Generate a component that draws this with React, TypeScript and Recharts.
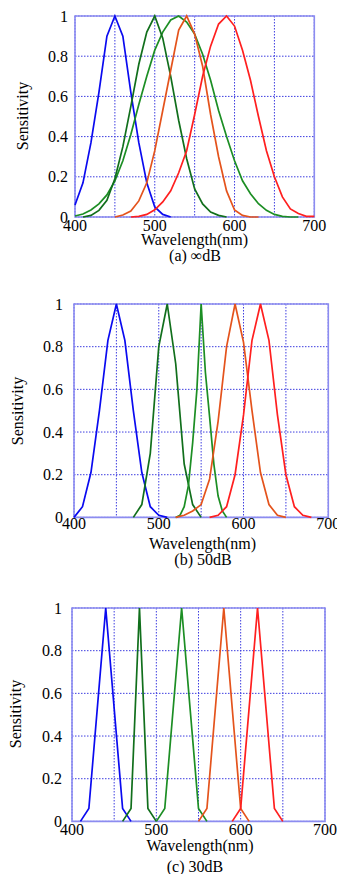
import { CartesianGrid, Line, LineChart, ReferenceArea, XAxis, YAxis } from "recharts";

const FONT = '"Liberation Serif", "Times New Roman", serif';
const BORDER = "#8c8cf0";
const GRID = "#3c3ce0";

const BLUE = "#0a0af0";
const DARK_GREEN = "#116f1c";
const LIGHT_GREEN = "#1c8e24";
const ORANGE = "#e4531c";
const RED = "#ff1f1f";

const X_TICKS = [400, 450, 500, 550, 600, 650, 700];
const X_LABELS = [400, 500, 600, 700];
const Y_TICKS = [0, 0.2, 0.4, 0.6, 0.8, 1];

// (a) ∞dB
const A_BLUE_NM = [400, 410, 420, 430, 440, 450, 460, 470, 480, 490, 500, 510, 520];
const A_BLUE = [0.06, 0.17, 0.37, 0.62, 0.9, 1.0, 0.9, 0.62, 0.37, 0.17, 0.05, 0.013, 0];
const A_DGREEN_NM = [410, 420, 430, 440, 450, 460, 470, 480, 490, 500, 510, 520, 530, 540, 550, 560, 570, 580, 590];
const A_DGREEN = [0, 0.008, 0.033, 0.083, 0.19, 0.35, 0.55, 0.76, 0.92, 1.0, 0.89, 0.7, 0.48, 0.29, 0.14, 0.065, 0.025, 0.008, 0];
const A_LGREEN_NM = [400, 410, 420, 430, 440, 450, 460, 470, 480, 490, 500, 510, 520, 530, 540, 550, 560, 570, 580, 590, 600, 610, 620, 630, 640, 650, 660, 670, 680];
const A_LGREEN = [0.005, 0.015, 0.035, 0.065, 0.11, 0.18, 0.28, 0.41, 0.56, 0.7, 0.83, 0.92, 0.98, 1.0, 0.97, 0.91, 0.81, 0.68, 0.53, 0.4, 0.28, 0.18, 0.116, 0.066, 0.033, 0.013, 0.003, 0, 0];
const A_ORANGE_NM = [450, 460, 470, 480, 490, 500, 510, 520, 530, 540, 550, 560, 570, 580, 590, 600, 610, 620, 630];
const A_ORANGE = [0, 0.01, 0.03, 0.08, 0.17, 0.33, 0.53, 0.73, 0.93, 1.0, 0.91, 0.75, 0.51, 0.3, 0.13, 0.035, 0.008, 0, 0];
const A_RED_NM = [470, 480, 490, 500, 510, 520, 530, 540, 550, 560, 570, 580, 590, 600, 610, 620, 630, 640, 650, 660, 670, 680, 690, 700];
const A_RED = [0, 0.003, 0.013, 0.036, 0.075, 0.13, 0.22, 0.33, 0.51, 0.7, 0.85, 0.96, 1.0, 0.95, 0.83, 0.68, 0.5, 0.33, 0.2, 0.1, 0.04, 0.017, 0.003, 0.003];

// (b) 50dB
const B_BLUE_NM = [400, 410, 420, 430, 440, 450, 460, 470, 480, 490, 500, 510];
const B_BLUE = [0, 0.05, 0.21, 0.5, 0.83, 1.0, 0.83, 0.5, 0.21, 0.05, 0.01, 0];
const B_DGREEN_NM = [470, 480, 490, 500, 510, 520, 530, 540, 550];
const B_DGREEN = [0, 0.06, 0.3, 0.8, 1.0, 0.72, 0.25, 0.06, 0];
const B_LGREEN_NM = [520, 525, 530, 535, 540, 545, 550, 555, 560, 565, 570, 575, 580];
const B_LGREEN = [0, 0.01, 0.05, 0.15, 0.35, 0.6, 1.0, 0.68, 0.47, 0.25, 0.1, 0.03, 0];
const B_ORANGE_NM = [520, 530, 540, 550, 560, 570, 580, 590, 600, 610, 620, 630, 640, 650];
const B_ORANGE = [0, 0.01, 0.03, 0.06, 0.18, 0.45, 0.8, 1.0, 0.82, 0.5, 0.21, 0.06, 0.01, 0];
const B_RED_NM = [560, 570, 580, 590, 600, 610, 620, 630, 640, 650, 660, 670, 680];
const B_RED = [0, 0.01, 0.05, 0.2, 0.48, 0.83, 1.0, 0.83, 0.48, 0.2, 0.05, 0.01, 0];

// (c) 30dB
const C_BLUE_NM = [410, 420, 440, 460, 470];
const C_BLUE = [0, 0.06, 1.0, 0.06, 0];
const C_DGREEN_NM = [460, 470, 480, 490, 500];
const C_DGREEN = [0, 0.06, 1.0, 0.06, 0];
const C_LGREEN_NM = [500, 510, 530, 550, 560];
const C_LGREEN = [0, 0.06, 1.0, 0.06, 0];
const C_ORANGE_NM = [550, 560, 580, 600, 610];
const C_ORANGE = [0, 0.06, 1.0, 0.06, 0];
const C_RED_NM = [590, 600, 620, 640, 650];
const C_RED = [0, 0.06, 1.0, 0.06, 0];

type Series = { key: string; color: string; nm: number[]; values: number[] };

type Layout = {
  plotLeft: number;
  plotRight: number;
  plotTop: number;
  plotBottom: number;
  xTickMargin: number;
  yTickMargin: number;
  xTitle: [number, number];
  yTitle: [number, number];
  caption: [number, number];
};

const toPoints = (nm: number[], values: number[]) =>
  nm.map((x, i) => ({ nm: x, s: values[i] }));

const PANELS: { caption: string; layout: Layout; series: Series[] }[] = [
  {
    caption: "(a) ∞dB",
    layout: {
      plotLeft: 75, plotRight: 314.3, plotTop: 15.7, plotBottom: 216.7,
      xTickMargin: 3, yTickMargin: 7,
      xTitle: [194.5, 240], yTitle: [23, 116], caption: [195, 256],
    },
    series: [
      { key: "a-blue", color: BLUE, nm: A_BLUE_NM, values: A_BLUE },
      { key: "a-lgreen", color: LIGHT_GREEN, nm: A_LGREEN_NM, values: A_LGREEN },
      { key: "a-dgreen", color: DARK_GREEN, nm: A_DGREEN_NM, values: A_DGREEN },
      { key: "a-orange", color: ORANGE, nm: A_ORANGE_NM, values: A_ORANGE },
      { key: "a-red", color: RED, nm: A_RED_NM, values: A_RED },
    ],
  },
  {
    caption: "(b) 50dB",
    layout: {
      plotLeft: 74, plotRight: 328.3, plotTop: 304.3, plotBottom: 517.7,
      xTickMargin: 0, yTickMargin: 11,
      xTitle: [202.5, 544], yTitle: [18.3, 410.7], caption: [203, 560],
    },
    series: [
      { key: "b-blue", color: BLUE, nm: B_BLUE_NM, values: B_BLUE },
      { key: "b-dgreen", color: DARK_GREEN, nm: B_DGREEN_NM, values: B_DGREEN },
      { key: "b-lgreen", color: LIGHT_GREEN, nm: B_LGREEN_NM, values: B_LGREEN },
      { key: "b-orange", color: ORANGE, nm: B_ORANGE_NM, values: B_ORANGE },
      { key: "b-red", color: RED, nm: B_RED_NM, values: B_RED },
    ],
  },
  {
    caption: "(c) 30dB",
    layout: {
      plotLeft: 72, plotRight: 325, plotTop: 608.3, plotBottom: 821.7,
      xTickMargin: 2, yTickMargin: 10,
      xTitle: [200, 845.7], yTitle: [16, 714], caption: [195, 866.7],
    },
    series: [
      { key: "c-blue", color: BLUE, nm: C_BLUE_NM, values: C_BLUE },
      { key: "c-dgreen", color: DARK_GREEN, nm: C_DGREEN_NM, values: C_DGREEN },
      { key: "c-lgreen", color: LIGHT_GREEN, nm: C_LGREEN_NM, values: C_LGREEN },
      { key: "c-orange", color: ORANGE, nm: C_ORANGE_NM, values: C_ORANGE },
      { key: "c-red", color: RED, nm: C_RED_NM, values: C_RED },
    ],
  },
];

const textStyle = {
  position: "absolute" as const,
  fontFamily: FONT,
  fontSize: 16,
  lineHeight: 1,
  color: "#000",
  whiteSpace: "nowrap" as const,
};

function Panel({ caption, layout, series }: (typeof PANELS)[number]) {
  const chartTop = layout.plotTop - 12;
  const chartHeight = layout.plotBottom + 22 - chartTop;
  const tick = { fill: "#000", fontSize: 16, fontFamily: FONT };

  return (
    <>
      <div style={{ position: "absolute", left: 0, top: chartTop }}>
        <LineChart
          width={337}
          height={chartHeight}
          margin={{ top: layout.plotTop - chartTop, right: 337 - layout.plotRight, bottom: 0, left: 0 }}
        >
          <CartesianGrid stroke={GRID} strokeDasharray="1.5 1.5" strokeWidth={1} />
          <ReferenceArea
            x1={400}
            x2={700}
            y1={0}
            y2={1}
            fill="none"
            fillOpacity={0}
            stroke={BORDER}
            strokeWidth={1.6}
            ifOverflow="visible"
          />
          <XAxis
            type="number"
            dataKey="nm"
            domain={[400, 700]}
            ticks={X_TICKS}
            interval={0}
            tickFormatter={(v: number) => (X_LABELS.includes(v) ? String(v) : "")}
            tickLine={false}
            axisLine={false}
            tickSize={0}
            tickMargin={layout.xTickMargin}
            tick={tick}
            height={chartTop + chartHeight - layout.plotBottom}
          />
          <YAxis
            type="number"
            domain={[0, 1]}
            ticks={Y_TICKS}
            interval={0}
            tickLine={false}
            axisLine={false}
            tickSize={0}
            tickMargin={layout.yTickMargin}
            tick={tick}
            width={layout.plotLeft}
          />
          {series.map((s) => (
            <Line
              key={s.key}
              data={toPoints(s.nm, s.values)}
              dataKey="s"
              type="linear"
              stroke={s.color}
              strokeWidth={1.7}
              dot={false}
              activeDot={false}
              isAnimationActive={false}
            />
          ))}
        </LineChart>
      </div>
      <div
        style={{
          ...textStyle,
          left: layout.xTitle[0],
          top: layout.xTitle[1],
          transform: "translate(-50%, -50%)",
        }}
      >
        Wavelength(nm)
      </div>
      <div
        style={{
          ...textStyle,
          left: layout.yTitle[0],
          top: layout.yTitle[1],
          transform: "translate(-50%, -50%) rotate(-90deg)",
        }}
      >
        Sensitivity
      </div>
      <div
        style={{
          ...textStyle,
          left: layout.caption[0],
          top: layout.caption[1],
          transform: "translate(-50%, -50%)",
        }}
      >
        {caption}
      </div>
    </>
  );
}

export default function App() {
  return (
    <div
      style={{
        position: "absolute",
        left: 0,
        top: 0,
        width: 337,
        height: 874,
        overflow: "hidden",
        background: "#fff",
      }}
    >
      {PANELS.map((p) => (
        <Panel key={p.caption} {...p} />
      ))}
    </div>
  );
}
